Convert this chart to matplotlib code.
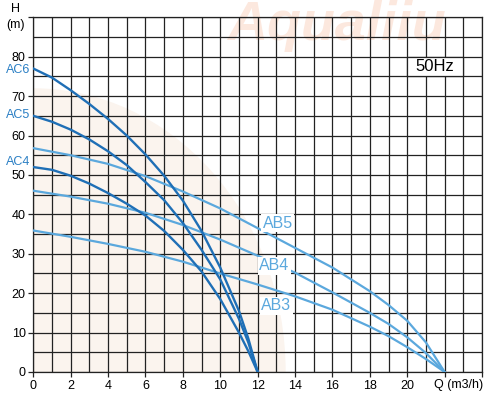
import numpy as np
import matplotlib
matplotlib.use("Agg")
import matplotlib.pyplot as plt
from matplotlib.patches import Ellipse, Rectangle

plt.rcParams['font.family'] = ['Liberation Sans', 'DejaVu Sans']

# pump curves, flow Q (m3/h) vs head H (m)
ac_q = [0, 1, 2, 3, 4, 5, 6, 7, 8, 9, 10, 11, 11.5, 12]
ac6_h = [77, 74.7, 71.5, 68, 64.2, 60, 55.2, 49.8, 43.5, 35.8, 26.5, 15.5, 8.5, 0]
ac5_h = [65, 63.5, 61.5, 59, 56, 52.5, 48.2, 43.6, 37.8, 31, 23.5, 13.5, 7.5, 0]
ac4_h = [52, 51.3, 49.8, 47.8, 45.4, 42.7, 39.7, 35.8, 31, 25.5, 18.5, 10, 5.3, 0]

ab_q = [0, 2, 4, 6, 8, 10, 12, 14, 16, 18, 19, 20, 21, 22]
ab5_h = [56.8, 55, 52.8, 49.7, 45.8, 41.5, 36.5, 31.5, 26.5, 20.5, 17, 13, 7.5, 0]
ab4_h = [46, 44.5, 42.7, 40.4, 37.3, 33.6, 29.5, 25.2, 20.2, 15, 12.2, 8.8, 4.8, 0]
ab3_h = [35.9, 34.3, 32.5, 30.5, 28.0, 25.0, 22.2, 19.2, 15.8, 11.5, 9.1, 6.3, 3.3, 0]

x_ticks = list(range(0, 25, 2))
x_labels = [str(v) for v in range(0, 21, 2)] + ['', '']
y_ticks = list(range(0, 91, 10))
y_labels = [str(v) for v in range(0, 81, 10)] + ['']

dark = '#1f6fb6'
light = '#5ba8dd'

fig = plt.figure(figsize=(4.93, 3.99), dpi=100)
ax = fig.add_axes([0.0675, 0.0677, 0.9102, 0.8889])
ax.set_facecolor('none')

# faint watermark
fig.text(0.46, 1.0, 'Aqualiiu', fontsize=40, color='#fce8de', style='italic',
         weight='bold', ha='left', va='top', zorder=-1)
ax.add_patch(Ellipse((0, 0), 27, 144, color='#fbf4ee', zorder=0.1, lw=0))

ax.set_xlim(0, 24)
ax.set_ylim(0, 90)
ax.set_xticks(x_ticks)
ax.set_xticklabels(x_labels, fontsize=9)
ax.set_xticks(np.arange(0, 25, 1), minor=True)
ax.set_yticks(y_ticks)
ax.set_yticklabels(y_labels, fontsize=9)
ax.set_yticks(np.arange(0, 91, 5), minor=True)
ax.tick_params(which='major', length=3.5, width=0.9, color='#222222', pad=2)
ax.tick_params(which='minor', length=0)
ax.set_axisbelow(True)
ax.grid(which='both', color='#222222', lw=0.9)
for s in ax.spines.values():
    s.set_color('#222222')
    s.set_linewidth(0.9)

ax.plot(ab_q, ab5_h, color=light, lw=1.6, zorder=3)
ax.plot(ab_q, ab4_h, color=light, lw=1.6, zorder=3)
ax.plot(ab_q, ab3_h, color=light, lw=1.6, zorder=3)
ax.plot(ac_q, ac6_h, color=dark, lw=1.7, zorder=4)
ax.plot(ac_q, ac5_h, color=dark, lw=1.7, zorder=4)
ax.plot(ac_q, ac4_h, color=dark, lw=1.7, zorder=4)

box = dict(facecolor='white', edgecolor='none', pad=1.0)
ax.text(13.08, 37.8, 'AB5', color=light, fontsize=11.5, ha='center', va='center', bbox=box, zorder=5)
ax.text(12.9, 27.0, 'AB4', color=light, fontsize=11.5, ha='center', va='center', bbox=box, zorder=5)
ax.text(13.0, 16.8, 'AB3', color=light, fontsize=11.5, ha='center', va='center', bbox=box, zorder=5)

for name, h in [('AC6', 76.6), ('AC5', 65.2), ('AC4', 53.3)]:
    ax.text(-0.15, h, name, color='#2a7fc4', fontsize=9, ha='right', va='center', clip_on=False)

# 50Hz box
ax.add_patch(Rectangle((20, 75), 3, 5, facecolor='white', edgecolor='none', zorder=2))
ax.plot([20, 23, 23, 20, 20], [75, 75, 80, 80, 75], color='#222222', lw=0.9, zorder=2)
ax.text(21.5, 77.5, '50Hz', fontsize=12, ha='center', va='center', zorder=3)

ax.text(-0.95, 92.0, 'H', fontsize=9, ha='center', va='center', clip_on=False)
ax.text(-0.95, 88.0, '(m)', fontsize=9, ha='center', va='center', clip_on=False)
ax.text(24.05, -1.9, 'Q (m3/h)', fontsize=9, ha='right', va='top', clip_on=False)

fig.savefig('out.png', dpi=100)
